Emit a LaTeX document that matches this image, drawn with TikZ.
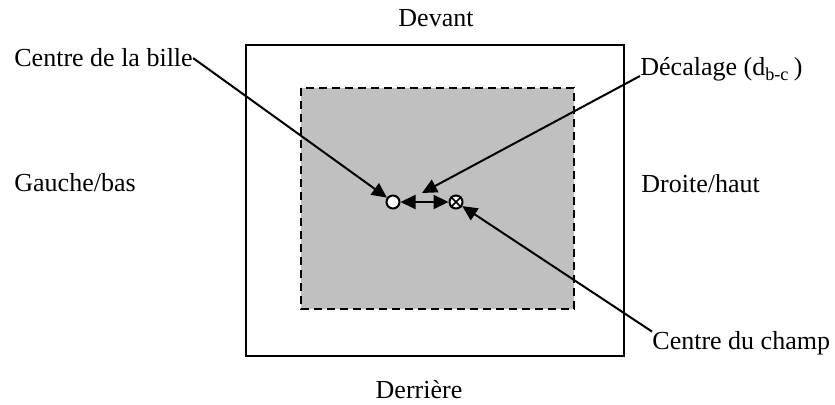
\documentclass[tikz,border=0pt]{standalone}
\usepackage{fontspec}
\setmainfont{Liberation Serif}
\usetikzlibrary{arrows.meta}
\definecolor{fieldgray}{RGB}{192,192,192}
\tikzset{%
  lbl/.style={inner sep=0pt, font=\fontsize{13}{15}\selectfont},
  ptr/.style={line width=1pt, -{Triangle[length=7.5pt, width=7pt]}},
  dptr/.style={line width=1pt, {Triangle[length=7.5pt, width=7pt]}-{Triangle[length=7.5pt, width=7pt]}},
}

\begin{document}
\begin{tikzpicture}[x=0.5pt, y=-0.5pt]
    \useasboundingbox (0,0) rectangle (835,405);
    \coordinate (A) at (246,45);
    \coordinate (B) at (624,356);
    \coordinate (C) at (301,88);
    \coordinate (D) at (574,309);

    %outer frame and field
    \draw[line width=1pt] (A) rectangle (B);
    \draw[line width=1pt, fill=fieldgray, dash pattern=on 4pt off 2.5pt] (C) rectangle (D);

    %ball and field centre
    \node[draw, circle, line width=1pt, fill=white, inner sep=0pt, minimum size=6.5pt] (bille) at (393,202) {};
    \node[draw, circle, line width=1pt, fill=white, inner sep=0pt, minimum size=6.5pt] (champ) at (456,202) {};
    \draw[line width=0.8pt] (champ.45) -- (champ.225);
    \draw[line width=0.8pt] (champ.135) -- (champ.315);

    % side labels
    \node[lbl, anchor=base] (devant) at (436,27) {Devant};
    \node[lbl, anchor=base] (derriere) at (419,399) {Derrière};
    \node[lbl, anchor=base west] (gauche) at (14,192) {Gauche/bas};
    \node[lbl, anchor=base west] (droite) at (641,193) {Droite/haut};

    % pointer labels
    \node[lbl, anchor=base west] (labelbille) at (14,67) {Centre de la bille};
    \node[lbl, anchor=base west] (decalage) at (640,76) {Décalage (d\textsubscript{b-c}\,)};
    \node[lbl, anchor=base west] (labelchamp) at (652,350) {Centre du champ};
    \coordinate (decal) at (422,193);

    \draw[ptr] (labelbille.east) -- (bille);
    \draw[ptr] (decalage.base west) -- (decal);
    \draw[ptr] (labelchamp.north west) -- (champ);
    \draw[dptr] (bille) -- (champ);
\end{tikzpicture}
\end{document}
